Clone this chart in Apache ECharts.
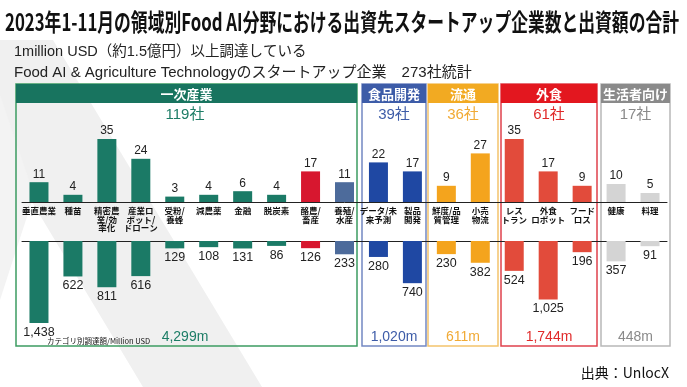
<!DOCTYPE html>
<html>
<head>
<meta charset="utf-8">
<script src="https://cdn.jsdelivr.net/npm/echarts@6/dist/echarts.min.js"></script>
<style>
html,body{margin:0;padding:0;background:#fff;}
#main{width:687px;height:387px;}
</style>
</head>
<body>
<div id="main"></div>
<script>
// ---- data ----
const categories = ['垂直農業','種苗','精密農業/効率化','産業ロボット/ドローン','受粉/養蜂','減農薬','金融','脱炭素','酪農/畜産','養殖/水産','データ/未来予測','製品開発','鮮度/品質管理','小売物流','レストラン','外食ロボット','フードロス','健康','料理'];
const categoryLabels = ['垂直農業','種苗','精密農\n業/効\n率化','産業ロ\nボット/\nドローン','受粉/\n養蜂','減農薬','金融','脱炭素','酪農/\n畜産','養殖/\n水産','データ/未\n来予測','製品\n開発','鮮度/品\n質管理','小売\n物流','レス\nトラン','外食\nロボット','フード\nロス','健康','料理'];
const startupCounts = [11,4,35,24,3,4,6,4,17,11,22,17,9,27,35,17,9,10,5];
const fundingMillionUSD = [1438,622,811,616,129,108,131,86,126,233,280,740,230,382,524,1025,196,357,91];
const groupNames = ['一次産業','食品開発','流通','外食','生活者向け'];
const groupCounts = ['119社','39社','36社','61社','17社'];
const groupTotals = ['4,299m','1,020m','611m','1,744m','448m'];
const titleText = '2023年1-11月の領域別Food AI分野における出資先スタートアップ企業数と出資額の合計';
const subtitle1 = '1million USD（約1.5億円）以上調達している';
const subtitle2 = 'Food AI & Agriculture Technologyのスタートアップ企業　273社統計';
const unitNote = 'カテゴリ別調達額/Million USD';
const sourceText = '出典：UnlocX';

// ---- styles ----
const barColors = ['#1b7a66','#1b7a66','#1b7a66','#1b7a66','#1b7a66','#1b7a66','#1b7a66','#1b7a66','#d7172f','#4d6b9b',
  '#1f48a3','#1f48a3','#f4a41d','#f4a41d','#e24b3b','#e24b3b','#e24b3b','#d4d4d4','#d4d4d4'];
const groupHeaderColors = ['#18745f','#3d5ca8','#f2aa22','#e3171f','#8a8a8a'];
const groupBorderColors = ['#3c9c62','#7388c2','#f4c46c','#e0414c','#b8b8b8'];
const groupTextColors = ['#1d7d66','#3d5ca8','#f1aa35','#e02a2a','#8a8a8a'];
const groupBoxes = [[16,357],[362,426],[428,498],[501,597],[601,670]];

const CJK = '"Noto Sans CJK JP", sans-serif';
const LAT = '"Liberation Sans", Arial, sans-serif';
const MIX = '"Liberation Sans", "Noto Sans CJK JP", sans-serif';

const chart = echarts.init(document.getElementById('main'), null, {renderer:'canvas'});

// compute title horizontal squeeze
const cv = document.createElement('canvas').getContext('2d');
cv.font = 'bold 24px "Noto Sans CJK JP"';
const titleW = cv.measureText(titleText).width;
const titleScale = 674 / titleW;

const graphics = [];
// watermark
graphics.push({type:'polygon', z:-10, silent:true, shape:{points:[[-65,40],[53,40],[262,387],[143,387]]}, style:{fill:'#f0f0f0'}});
graphics.push({type:'polygon', z:-10, silent:true, shape:{points:[[0,95],[34,195],[0,300]]}, style:{fill:'#f3f3f3'}});
// title
graphics.push({type:'text', x:5, y:22, scaleX:titleScale, style:{text:titleText, font:'bold 24px '+CJK, fill:'#111', verticalAlign:'middle'}});
graphics.push({type:'text', x:14, y:52, style:{text:subtitle1, font:'14.5px '+MIX, fill:'#222', verticalAlign:'middle'}});
graphics.push({type:'text', x:14, y:73, style:{text:subtitle2, font:'15px '+MIX, fill:'#222', verticalAlign:'middle'}});
// group boxes
groupBoxes.forEach((b,i)=>{
  const cx = (b[0]+b[1])/2;
  graphics.push({type:'rect', shape:{x:b[0], y:84, width:b[1]-b[0], height:262}, style:{fill:'none', stroke:groupBorderColors[i], lineWidth:1.5}});
  graphics.push({type:'rect', shape:{x:b[0], y:84, width:b[1]-b[0], height:19}, style:{fill:groupHeaderColors[i]}});
  graphics.push({type:'text', x:cx, y:94, style:{text:groupNames[i], font:'bold 13px '+CJK, fill:'#fff', align:'center', verticalAlign:'middle'}});
  const lx = i===0 ? 185 : cx;
  graphics.push({type:'text', x:lx, y:115, style:{text:groupCounts[i], font:'15px '+MIX, fill:groupTextColors[i], align:'center', verticalAlign:'middle'}});
  graphics.push({type:'text', x:lx, y:337, style:{text:groupTotals[i], font:'14px '+LAT, fill:groupTextColors[i], align:'center', verticalAlign:'middle'}});
});
graphics.push({type:'text', x:47, y:341, style:{text:unitNote, font:'7.5px '+CJK, fill:'#111', verticalAlign:'middle'}});
graphics.push({type:'text', x:669, y:373, style:{text:sourceText, font:'14px '+CJK, fill:'#111', align:'right', verticalAlign:'middle'}});

const option = {
  animation:false,
  backgroundColor:'#fff',
  grid:[
    {left:22, width:645, top:130, height:72},
    {left:22, width:645, top:241, height:85.5}
  ],
  xAxis:[
    {type:'category', gridIndex:0, data:categoryLabels, axisLine:{lineStyle:{color:'#222', width:1}}, axisTick:{show:false},
     axisLabel:{interval:0, fontSize:8.5, lineHeight:8.5, fontWeight:'bold', color:'#111', fontFamily:CJK, margin:5}},
    {type:'category', gridIndex:1, data:categories, position:'top', axisLine:{lineStyle:{color:'#222', width:1}}, axisTick:{show:false}, axisLabel:{show:false}}
  ],
  yAxis:[
    {type:'value', gridIndex:0, min:0, max:40, show:false, splitLine:{show:false}},
    {type:'value', gridIndex:1, min:0, max:1500, inverse:true, show:false, splitLine:{show:false}}
  ],
  series:[
    {type:'bar', xAxisIndex:0, yAxisIndex:0, barWidth:19,
     data:startupCounts.map((v,i)=>({value:v, itemStyle:{color:barColors[i]}})),
     label:{show:true, position:'top', distance:2, fontSize:12, color:'#222', fontFamily:LAT}},
    {type:'bar', xAxisIndex:1, yAxisIndex:1, barWidth:19,
     data:fundingMillionUSD.map((v,i)=>({value:v, itemStyle:{color:barColors[i]}})),
     label:{show:true, position:'bottom', distance:3, fontSize:12.5, color:'#222', fontFamily:LAT,
       formatter:p=>p.value.toLocaleString('en-US')}}
  ],
  graphic:graphics
};
chart.setOption(option);
</script>
</body>
</html>
